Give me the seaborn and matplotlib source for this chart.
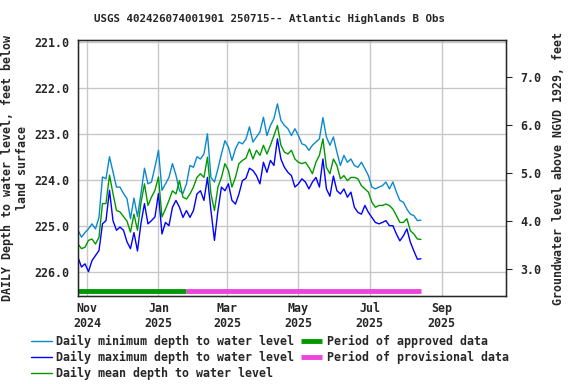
import pandas as pd
import seaborn as sns
import matplotlib.pyplot as plt

start_date = "2024-10-24"
min_depth = [225.10, 225.25, 225.15, 225.07, 224.96, 225.07, 224.82, 223.94, 223.98, 223.50,
             223.83, 224.16, 224.16, 224.30, 224.41, 224.85, 224.40, 224.80, 224.30, 223.75,
             224.09, 224.05, 223.72, 223.36, 224.23, 224.09, 223.95, 223.65, 223.90, 224.24,
             224.30, 224.09, 223.69, 223.73, 223.50, 223.55, 223.44, 223.00, 223.95, 224.05,
             223.76, 223.44, 223.15, 223.29, 223.58, 223.33, 223.18, 223.22, 223.12, 222.85,
             223.18, 223.07, 222.96, 222.64, 223.04, 222.82, 222.67, 222.35, 222.71, 222.82,
             222.89, 223.04, 222.89, 223.04, 223.22, 223.25, 223.36, 223.25, 223.18, 223.11,
             222.65, 223.07, 223.25, 223.07, 223.40, 223.69, 223.47, 223.62, 223.55, 223.69,
             223.73, 223.62, 223.76, 223.91, 224.16, 224.20, 224.16, 224.13, 224.05, 224.20,
             224.05, 224.27, 224.45, 224.49, 224.64, 224.75, 224.78, 224.89, 224.88]
max_depth = [225.69, 225.90, 225.83, 226.00, 225.76, 225.65, 225.54, 224.96, 224.89, 224.23,
             224.89, 225.10, 225.03, 225.10, 225.35, 225.50, 225.15, 225.55, 224.95, 224.52,
             224.96, 224.89, 224.81, 224.30, 225.18, 224.93, 225.00, 224.60, 224.45, 224.60,
             224.82, 224.67, 224.82, 224.67, 224.31, 224.24, 224.45, 223.95, 224.67, 225.32,
             224.67, 224.16, 224.24, 224.09, 224.45, 224.53, 224.31, 224.02, 223.97, 223.75,
             223.80, 223.91, 224.09, 223.62, 223.84, 223.58, 223.69, 223.11, 223.55, 223.73,
             223.84, 223.91, 224.16, 224.09, 223.98, 224.05, 224.20, 224.05, 223.95, 224.16,
             223.55, 224.20, 224.36, 223.92, 224.24, 224.31, 224.20, 224.38, 224.27, 224.60,
             224.71, 224.75, 224.56, 224.71, 224.82, 224.93, 224.96, 224.93, 224.89, 225.00,
             225.00, 225.18, 225.33, 225.22, 225.07, 225.36, 225.55, 225.73, 225.72]
mean_depth = [225.40, 225.50, 225.47, 225.32, 225.29, 225.40, 225.25, 224.52, 224.52, 223.90,
              224.30, 224.67, 224.70, 224.80, 224.90, 225.14, 224.75, 225.10, 224.50, 224.09,
              224.56, 224.38, 224.23, 223.94, 224.81, 224.64, 224.45, 224.24, 224.31, 224.02,
              224.38, 224.42, 224.31, 224.16, 223.95, 223.87, 223.95, 223.51, 224.31, 224.67,
              224.16, 223.95, 223.65, 223.80, 224.16, 223.95, 223.65, 223.58, 223.53, 223.33,
              223.55, 223.36, 223.47, 223.25, 223.44, 223.25, 223.04, 222.82, 223.25, 223.40,
              223.44, 223.36, 223.55, 223.62, 223.65, 223.62, 223.73, 223.87, 223.62, 223.47,
              223.11, 223.73, 223.87, 223.55, 223.69, 223.98, 223.91, 224.02, 223.95, 223.95,
              223.98, 224.13, 224.20, 224.27, 224.49, 224.60, 224.56, 224.56, 224.53, 224.56,
              224.64, 224.78, 224.93, 224.93, 224.85, 225.11, 225.18, 225.29, 225.30]
approved_period = ["2024-10-24", "2025-01-25"]
provisional_period = ["2025-01-25", "2025-08-14"]
tick_dates = ["2024-11-01", "2025-01-01", "2025-03-01", "2025-05-01", "2025-07-01", "2025-09-01"]
tick_labels = ["Nov\n2024", "Jan\n2025", "Mar\n2025", "May\n2025", "Jul\n2025", "Sep\n2025"]

df = pd.DataFrame({
    "date": pd.date_range(start_date, periods=len(min_depth), freq="3D"),
    "min": min_depth,
    "max": max_depth,
    "mean": mean_depth,
})

sns.set_style("white")
plt.rcParams["font.family"] = ["DejaVu Sans Mono"]
plt.rcParams["font.weight"] = "bold"

fig = plt.figure(figsize=(5.76, 3.84), dpi=100)
ax = fig.add_axes([0.1354, 0.2292, 0.7431, 0.6666])

sns.lineplot(data=df, x="date", y="min", ax=ax, color="#0a88d0", lw=1.0,
             label="Daily minimum depth to water level")
sns.lineplot(data=df, x="date", y="max", ax=ax, color="#0000ff", lw=1.0,
             label="Daily maximum depth to water level")
sns.lineplot(data=df, x="date", y="mean", ax=ax, color="#009900", lw=1.0,
             label="Daily mean depth to water level")
ax.plot(pd.to_datetime(approved_period), [226.43, 226.43], color="#009900", lw=3.5,
        solid_capstyle="butt", label="Period of approved data")
ax.plot(pd.to_datetime(provisional_period), [226.43, 226.43], color="#ee44dd", lw=3.5,
        solid_capstyle="butt", label="Period of provisional data")

ax.set_ylim(226.53, 220.96)
ax.set_xlim(pd.Timestamp("2024-10-24"), pd.Timestamp("2025-10-26"))
ax.set_yticks([221, 222, 223, 224, 225, 226])
ax.set_yticklabels([f"{v:.1f}" for v in [221, 222, 223, 224, 225, 226]])
ax.set_xticks(pd.to_datetime(tick_dates))
ax.set_xticklabels(tick_labels)
ax.grid(True, color="#c8c8c8", lw=1.0)
ax.tick_params(axis="both", labelsize=8.4, length=0, pad=6)
ax.tick_params(axis="x", pad=4)
for s in ax.spines.values():
    s.set_color("black")
    s.set_linewidth(1.0)
ax.set_xlabel("")
ax.set_ylabel("DAILY Depth to water level, feet below\nland surface", fontsize=8.4,
              fontweight="bold", labelpad=4)
fig.text(270 / 576, 1 - 19 / 384, "USGS 402426074001901 250715-- Atlantic Highlands B Obs",
         ha="center", va="center", fontsize=7.8, fontweight="bold")

ax2 = ax.twinx()
ax2.set_ylim(2.44, 7.76)
ax2.set_yticks([3, 4, 5, 6, 7])
ax2.set_yticklabels([f"{v:.1f}" for v in [3, 4, 5, 6, 7]])
ax2.tick_params(axis="y", labelsize=8.4, length=4, direction="out", pad=6)
ax2.set_ylabel("Groundwater level above NGVD 1929, feet", fontsize=8.4,
               fontweight="bold", labelpad=8)
ax2.grid(False)

handles, labels = ax.get_legend_handles_labels()
ax.get_legend().remove()
fig.legend(handles, labels, ncol=2, loc="upper left", bbox_to_anchor=(0.045, 0.14),
           frameon=False, fontsize=8.4, handlelength=1.8, handletextpad=0.4,
           columnspacing=0.6, labelspacing=0.25, borderaxespad=0)

fig.savefig("out.png", dpi=100)
